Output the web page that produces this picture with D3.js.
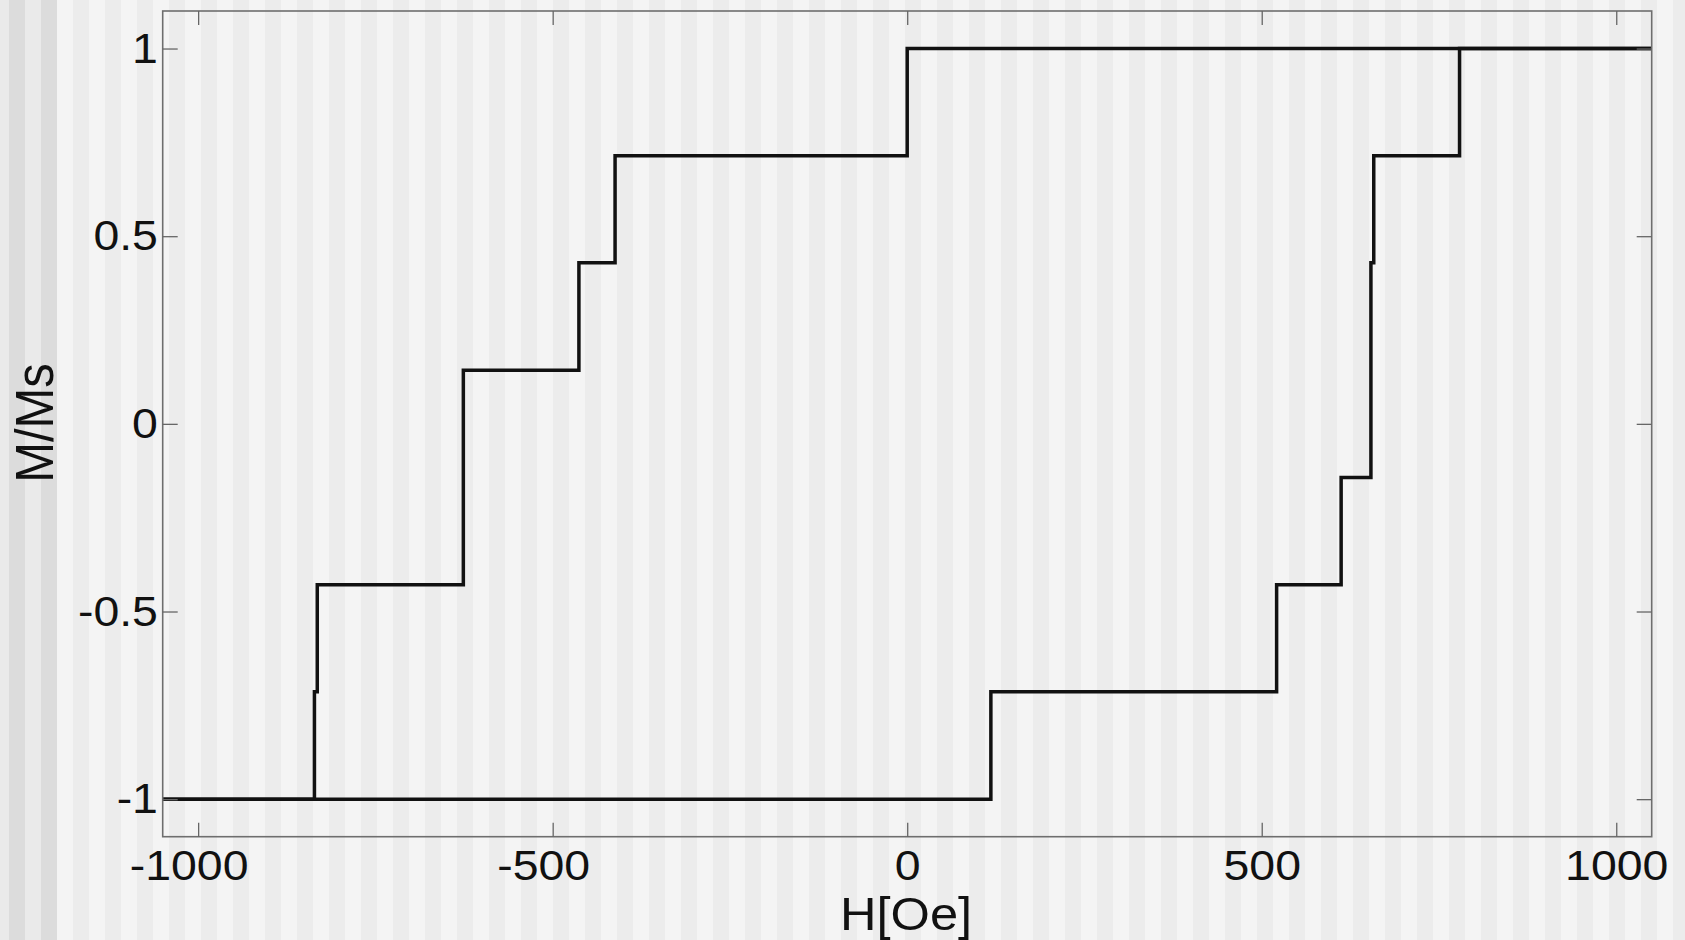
<!DOCTYPE html>
<html><head><meta charset="utf-8">
<script src="https://cdn.jsdelivr.net/npm/d3@7"></script>
<style>
html,body{margin:0;padding:0;background:#f4f4f4;overflow:hidden}
svg{display:block}
text{font-family:"Liberation Sans",Arial,Helvetica,sans-serif}
</style></head><body>
<svg id="chart" width="1685" height="940"></svg>
<script>
// ---- data ----
const xTicks = [-1000, -500, 0, 500, 1000];
const yTicks = [-1, -0.5, 0, 0.5, 1];
const xDomain = [-1050, 1050];
const yDomain = [-1.1, 1.1];
// increasing-field branch (step switching fields, Oe) and levels M/Ms
const risingH = [-1050, 118, 521, 612, 654, 658, 779, 1050];
const risingM = [-1, -0.714, -0.429, -0.143, 0.429, 0.714, 1, 1];
// decreasing-field branch
const fallingH = [1050, 0, -412, -463, -626, -832, -836, -1050];
const fallingM = [1, 0.714, 0.429, 0.143, -0.429, -0.714, -1, -1];
const xLabel = "H[Oe]";
const yLabel = "M/Ms";

// ---- layout ----
const W = 1685, H = 940;
const L = 162.7, R = 1651.7, T = 11, B = 836.7;
const SX = 1.08; // horizontal stretch of glyphs seen in the reference
const svg = d3.select("#chart");

// striped backdrop
svg.append("rect").attr("width", W).attr("height", H).attr("fill", "#f4f4f4");
svg.append("rect").attr("width", 57).attr("height", H).attr("fill", "#eaeaea");
svg.append("g").selectAll("rect").data(d3.range(9, W, 32)).join("rect")
  .attr("x", d => d).attr("y", 0).attr("width", 16).attr("height", H)
  .attr("fill", d => d < 57 ? "#dcdcdc" : "#ececec");

const x = d3.scaleLinear().domain(xDomain).range([L, R]);
const y = d3.scaleLinear().domain(yDomain).range([B, T]);

// data
const line = d3.line().x(d => x(d.h)).y(d => y(d.m)).curve(d3.curveStepAfter);
const branches = [
  risingH.map((h, i) => ({h, m: risingM[i]})),
  fallingH.map((h, i) => ({h, m: fallingM[i]}))
];
svg.append("g").selectAll("path").data(branches).join("path")
  .attr("d", line).attr("fill", "none").attr("stroke", "#111")
  .attr("stroke-width", 3.5).attr("stroke-linejoin", "miter");

// frame
svg.append("rect").attr("x", L).attr("y", T).attr("width", R - L).attr("height", B - T)
  .attr("fill", "none").attr("stroke", "#6e6e6e").attr("stroke-width", 1.6);

function style(g, withText) {
  g.select(".domain").remove();
  g.attr("font-family", null).attr("font-size", null);
  g.selectAll(".tick line").attr("stroke", "#666").attr("stroke-width", 1.3);
  if (!withText) g.selectAll(".tick text").remove();
}

const gB = svg.append("g").attr("transform", `translate(0,${B})`)
  .call(d3.axisBottom(x).tickValues(xTicks).tickSizeInner(-14).tickSizeOuter(0)
    .tickPadding(12.5).tickFormat(d => String(d)));
style(gB, true);
gB.selectAll(".tick text").attr("fill", "#111").attr("font-size", 43)
  .attr("transform", `scale(${SX},1)`)
  .attr("dx", d => d < 0 ? -8.8 : 0);

const gT = svg.append("g").attr("transform", `translate(0,${T})`)
  .call(d3.axisTop(x).tickValues(xTicks).tickSizeInner(-14).tickSizeOuter(0).tickFormat(""));
style(gT, false);

const gL = svg.append("g").attr("transform", `translate(${L},0)`)
  .call(d3.axisLeft(y).tickValues(yTicks).tickSizeInner(-15).tickSizeOuter(0)
    .tickPadding(4.4).tickFormat(d => String(d)));
style(gL, true);
gL.selectAll(".tick text").attr("fill", "#111").attr("font-size", 43)
  .attr("transform", `scale(${SX},1)`);

const gR = svg.append("g").attr("transform", `translate(${R},0)`)
  .call(d3.axisRight(y).tickValues(yTicks).tickSizeInner(-15).tickSizeOuter(0).tickFormat(""));
style(gR, false);

// axis titles
svg.append("text").attr("transform", `translate(906,930) scale(1.1,1)`)
  .attr("text-anchor", "middle").attr("font-size", 46).attr("fill", "#111").text(xLabel);
svg.append("text").attr("transform", `translate(53,423) scale(${SX},1) rotate(-90)`)
  .attr("text-anchor", "middle").attr("font-size", 49).attr("fill", "#111").text(yLabel);
</script>
</body></html>
